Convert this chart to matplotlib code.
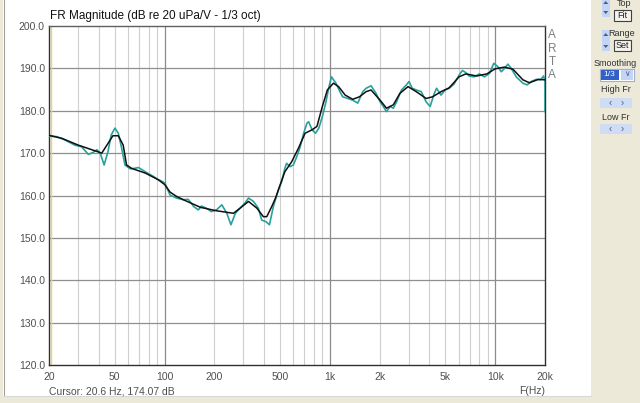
import matplotlib
matplotlib.use("Agg")
import matplotlib.pyplot as plt
from matplotlib.patches import Rectangle, Polygon

plt.rcParams['font.family'] = ['Liberation Sans', 'DejaVu Sans']

# ---------------- data ----------------
raw_freq = [20, 22.2, 25, 28.6, 31.5, 34.6, 37.1, 39, 40.8, 43.1, 45.5, 47.6, 50.1, 52.5,
            55, 57.6, 61.9, 65.7, 69.6, 76.4, 85.6, 91.8, 96, 100.5, 108, 118, 130, 139,
            150, 160, 167, 179, 192, 206, 222, 238, 252, 268, 286, 306, 322, 345, 369,
            387, 411, 431, 455, 488, 511, 534, 547, 574, 601, 631, 661, 694, 727, 744,
            780, 818, 857, 900, 943, 988, 1022, 1088, 1150, 1195, 1282, 1374, 1474, 1580,
            1655, 1774, 1902, 2011, 2105, 2200, 2313, 2420, 2530, 2710, 2900, 3010, 3150,
            3330, 3570, 3820, 4040, 4280, 4420, 4700, 4980, 5260, 5640, 6040, 6330, 6640,
            6950, 7460, 8010, 8600, 9230, 9800, 10370, 10870, 11380, 11920, 12500, 13400,
            14700, 15600, 16500, 17700, 18800, 19600, 20000, 20000]
raw_db = [174.0, 173.9, 173.1, 171.9, 171.5, 169.7, 170.2, 170.8, 170.0, 167.2, 170.4, 174.3,
          175.9, 174.7, 171.2, 167.2, 166.3, 166.4, 166.6, 165.6, 164.5, 163.7, 163.4, 162.9,
          160.1, 159.4, 159.0, 159.1, 157.4, 156.6, 157.5, 157.0, 156.2, 156.6, 157.8, 155.8,
          153.1, 155.8, 157.0, 158.2, 159.4, 158.6, 157.0, 154.2, 153.8, 153.1, 157.4, 161.3,
          163.3, 166.4, 167.6, 166.8, 167.2, 169.2, 171.5, 174.7, 177.1, 177.4, 175.5, 174.7,
          175.9, 178.6, 181.8, 185.7, 188.0, 186.5, 184.5, 183.3, 182.9, 182.5, 181.8, 184.5,
          185.3, 185.9, 184.1, 182.1, 181.0, 179.8, 181.0, 180.6, 182.1, 184.9, 186.1, 186.9,
          185.3, 184.9, 184.5, 182.1, 181.0, 184.1, 185.3, 183.7, 184.9, 185.3, 186.3, 188.4,
          189.5, 189.0, 188.2, 188.0, 188.7, 188.0, 188.8, 191.2, 190.4, 189.2, 190.0, 191.0,
          190.0, 188.0, 186.5, 186.1, 186.9, 187.4, 187.3, 188.2, 186.9, 179.8]

smooth_freq = [20, 23.9, 30, 36.3, 41.7, 45.5, 48.7, 52.5, 56.2, 58.9, 63.2, 76.4, 91.8, 100,
               108, 118, 130, 165, 206, 261, 286, 322, 362, 396, 415, 445, 470, 500, 534,
               588, 646, 708, 780, 835, 900, 965, 1050, 1128, 1237, 1374, 1510, 1655, 1774,
               2011, 2200, 2420, 2650, 2970, 3330, 3820, 4180, 4700, 5260, 6040, 6640, 7720,
               8900, 10000, 11380, 12800, 14700, 16100, 18200, 20000]
smooth_db = [174.2, 173.5, 171.9, 170.8, 170.0, 172.3, 174.1, 174.1, 171.9, 167.2, 166.4,
             165.3, 163.7, 162.6, 160.8, 159.8, 159.0, 157.2, 156.4, 155.8, 157.0, 158.6,
             157.0, 155.0, 155.0, 157.4, 159.5, 162.5, 165.6, 168.0, 171.2, 174.7, 175.5,
             176.3, 181.0, 184.9, 186.5, 185.7, 183.7, 182.7, 183.3, 184.5, 184.9, 182.5,
             180.6, 181.4, 184.1, 185.7, 184.5, 182.9, 183.3, 184.5, 185.4, 188.0, 188.7,
             188.2, 188.7, 189.9, 190.3, 189.8, 187.3, 186.6, 187.4, 187.3]

x_ticks = [20, 50, 100, 200, 500, 1000, 2000, 5000, 10000, 20000]
x_tick_labels = ['20', '50', '100', '200', '500', '1k', '2k', '5k', '10k', '20k']
y_ticks = [120, 130, 140, 150, 160, 170, 180, 190, 200]
y_tick_labels = ['120.0', '130.0', '140.0', '150.0', '160.0', '170.0', '180.0', '190.0', '200.0']

title = 'FR Magnitude (dB re 20 uPa/V - 1/3 oct)'
cursor_text = 'Cursor: 20.6 Hz, 174.07 dB'
cursor_freq = 20.6

# ---------------- figure ----------------
W, H = 640, 403
fig = plt.figure(figsize=(W / 100, H / 100), dpi=100, facecolor='white')

def fx(x):
    return x / W

def fy(y):
    return 1 - y / H

# overlay (pixel coordinates) for window decorations
ov = fig.add_axes([0, 0, 1, 1], zorder=0)
ov.set_xlim(0, W)
ov.set_ylim(H, 0)
ov.axis('off')
ov.patch.set_alpha(0)

beige = '#ECE9D8'
ov.add_patch(Rectangle((591, 0), 49, H, color=beige, lw=0))
ov.add_patch(Rectangle((0, 396), 591, 7, color=beige, lw=0))
ov.add_patch(Rectangle((0, 0), 3, 396, color=beige, lw=0))
ov.plot([3.5, 3.5], [0, 396], color='#a0a0a0', lw=0.8)
ov.plot([3.5, 591], [396, 396], color='#d8d8d8', lw=0.8)

# controls
blue = '#C4D4F4'
def spinner(x0, y0, x1, y1):
    ov.add_patch(Rectangle((x0, y0), x1 - x0, y1 - y0, color=blue, lw=0))
    cx = (x0 + x1) / 2
    ov.add_patch(Polygon([(cx - 2.5, y0 + 6), (cx + 2.5, y0 + 6), (cx, y0 + 3)], color='#4a5a8a', lw=0))
    ov.add_patch(Polygon([(cx - 2.5, y1 - 6), (cx + 2.5, y1 - 6), (cx, y1 - 3)], color='#4a5a8a', lw=0))

def button(x0, y0, x1, y1, label):
    ov.add_patch(Rectangle((x0, y0), x1 - x0, y1 - y0, facecolor='#F4F3EE', edgecolor='#404040', lw=0.8))
    ov.text((x0 + x1) / 2, (y0 + y1) / 2 + 0.5, label, fontsize=6.5, ha='center', va='center', color='#202020')

spinner(601.5, -2, 610, 17)
ov.text(617, 4, 'Top', fontsize=6.5, ha='left', va='center', color='#303030')
button(614, 10, 631, 21, 'Fit')
spinner(601.5, 30, 610, 51)
ov.text(622, 33, 'Range', fontsize=6.5, ha='center', va='center', color='#303030')
button(614, 40, 631, 51, 'Set')
ov.text(615, 63, 'Smoothing', fontsize=6.5, ha='center', va='center', color='#303030')
ov.add_patch(Rectangle((600, 69), 34, 12, facecolor='white', edgecolor='#a0b0d0', lw=0.8))
ov.add_patch(Rectangle((601, 70), 18, 10, color='#3060C8', lw=0))
ov.text(603, 75, '1/3', fontsize=6, ha='left', va='center', color='white')
ov.add_patch(Rectangle((621, 70), 12, 10, color=blue, lw=0))
ov.text(627, 75, '\u2228', fontsize=5.5, ha='center', va='center', color='#4a5a8a')
for ylab, ybtn, lab in [(90, 98, 'High Fr'), (117, 124, 'Low Fr')]:
    ov.text(616, ylab, lab, fontsize=6.5, ha='center', va='center', color='#303030')
    ov.add_patch(Rectangle((600, ybtn), 32, 10, color='#D0DCF4', lw=0))
    ov.text(610, ybtn + 5, '\u2039', fontsize=7, ha='center', va='center', color='#4a5a8a')
    ov.text(622, ybtn + 5, '\u203A', fontsize=7, ha='center', va='center', color='#4a5a8a')

# ---------------- plot axes ----------------
L, R, T, B = 49, 545, 26, 365
ax = fig.add_axes([fx(L), fy(B), (R - L) / W, (B - T) / H], zorder=1)
ax.set_facecolor('white')
ax.set_xscale('log')
ax.set_xlim(20, 20000)
ax.set_ylim(120, 200)

# grid
minor_vals = []
for dec in [10, 100, 1000, 10000]:
    for m in range(2, 10):
        v = dec * m
        if 20 < v < 20000:
            minor_vals.append(v)
for v in minor_vals:
    ax.axvline(v, color='#cfcfcf', lw=0.8, zorder=1)
for v in [100, 1000, 10000]:
    ax.axvline(v, color='#8a8a8a', lw=0.9, zorder=1)
for v in y_ticks[1:-1]:
    ax.axhline(v, color='#8f8f8f', lw=0.9, zorder=1)
ax.axvline(cursor_freq, color='#E8D860', lw=1.0, zorder=2)

ax.plot(raw_freq, raw_db, color='#28A09C', lw=1.2, zorder=3)
ax.plot(smooth_freq, smooth_db, color='#101010', lw=1.1, zorder=4)

ax.set_xticks(x_ticks)
ax.set_xticklabels(x_tick_labels)
ax.xaxis.set_minor_locator(matplotlib.ticker.NullLocator())
ax.set_yticks(y_ticks)
ax.set_yticklabels(y_tick_labels)
ax.tick_params(axis='both', length=0, labelsize=7.5, colors='#505050')
ax.tick_params(axis='x', pad=5)
ax.tick_params(axis='y', pad=3)
for s in ax.spines.values():
    s.set_color('#303030')
    s.set_linewidth(1.0)
ax.spines['top'].set_color('#606060')

ov.text(L + 1, 16, title, fontsize=8.5, ha='left', va='center', color='#101010')
ov.text(L, 391, cursor_text, fontsize=7.5, ha='left', va='center', color='#505050')
ov.text(R, 391, 'F(Hz)', fontsize=7.5, ha='right', va='center', color='#505050')
for i, ch in enumerate('ARTA'):
    ov.text(552, 35 + i * 13.5, ch, fontsize=8.5, ha='center', va='center', color='#808080')

fig.savefig('out.png', dpi=100, facecolor=fig.get_facecolor())
